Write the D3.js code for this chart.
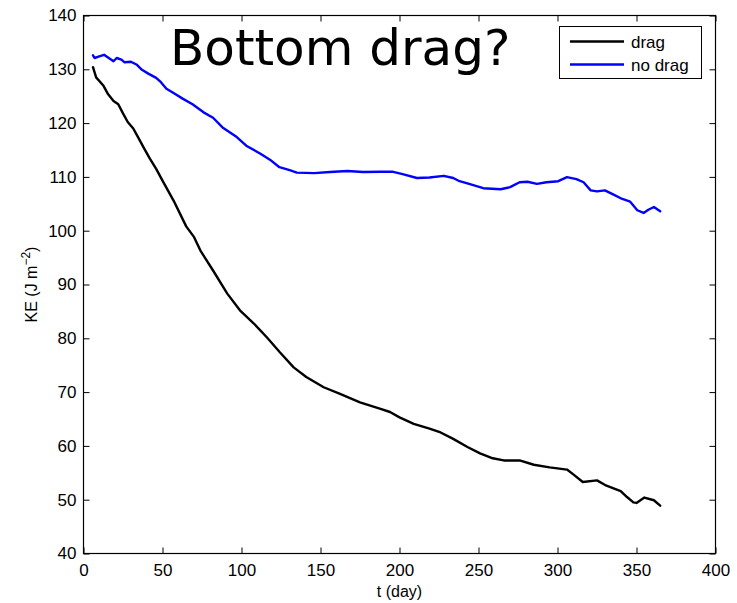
<!DOCTYPE html>
<html>
<head>
<meta charset="utf-8">
<script src="https://cdn.jsdelivr.net/npm/d3@7"></script>
<style>
  html, body { margin: 0; padding: 0; background: #fff; }
  svg { display: block; }
  text { fill: #000; }
</style>
</head>
<body>
<svg id="chart" width="737" height="603"></svg>
<script>
// Kinetic energy time series, with and without bottom drag
const dragDays = [6, 8, 12.5, 15.5, 19, 22, 25, 28, 31.5, 34.5, 38, 42, 46, 50, 57, 65, 70, 74, 82, 91, 99, 108, 116, 124, 133, 141, 152, 162, 175, 188, 194, 200, 209, 219, 226, 234, 243, 251, 259, 266, 276, 285, 295, 306, 310, 316, 325, 331, 340, 344, 348, 350, 355, 361, 365];
const dragKE = [130.4, 128.5, 127, 125.4, 124.1, 123.5, 121.8, 120.2, 119, 117.4, 115.5, 113.4, 111.5, 109.3, 105.6, 100.8, 98.8, 96.3, 92.6, 88.3, 85.2, 82.7, 80.2, 77.5, 74.6, 72.8, 70.9, 69.7, 68.1, 66.9, 66.3, 65.3, 64.1, 63.2, 62.5, 61.3, 59.8, 58.6, 57.7, 57.3, 57.3, 56.5, 56.0, 55.6, 54.7, 53.3, 53.6, 52.6, 51.6, 50.5, 49.5, 49.4, 50.4, 49.9, 48.9];

const noDragDays = [6, 7, 10, 13, 16, 19, 21, 24, 26, 30, 33.5, 37, 41, 46, 49, 52.5, 57, 63, 69, 76, 82, 88, 97, 103, 112, 118, 124, 131, 135, 146, 156, 167, 177, 188, 196, 202, 211, 219, 228, 234, 238, 243, 253, 264, 270, 276, 281, 287, 293, 300.5, 306, 312, 316.5, 321, 325, 330, 335.5, 341, 346, 348, 350.5, 354.5, 357.5, 361, 365];
const noDragKE = [132.6, 132.1, 132.4, 132.7, 132.1, 131.5, 132.1, 131.8, 131.3, 131.4, 130.9, 129.9, 129.2, 128.4, 127.6, 126.4, 125.6, 124.5, 123.5, 122.0, 121.0, 119.2, 117.4, 115.8, 114.3, 113.2, 111.8, 111.2, 110.8, 110.7, 110.9, 111.1, 110.9, 110.95, 110.95, 110.5, 109.8, 109.9, 110.2, 109.8, 109.2, 108.8, 107.9, 107.7, 108.1, 109.0, 109.1, 108.7, 109.0, 109.2, 109.95, 109.6, 109.0, 107.5, 107.3, 107.5, 106.7, 105.9, 105.4, 104.7, 103.8, 103.3, 103.9, 104.4, 103.6];

const xTicks = [0, 50, 100, 150, 200, 250, 300, 350, 400];
const yTicks = [40, 50, 60, 70, 80, 90, 100, 110, 120, 130, 140];

const seriesNames = ["drag", "no drag"];
const seriesColors = ["#000000", "#0000ff"];

(function () {
  const x0 = 83.5, x1 = 715.5;
  const y0 = 553.5, y1 = 15.5;
  const sans = "'Liberation Sans', Arial, sans-serif";

  const svg = d3.select("#chart");

  const x = d3.scaleLinear().domain([0, 400]).range([x0, x1]);
  const y = d3.scaleLinear().domain([40, 140]).range([y0, y1]);

  // Axes box with inward ticks on all four sides
  const tickLen = 6;

  const gBottom = svg.append("g").attr("transform", `translate(0,${y0})`)
    .call(d3.axisBottom(x).tickValues(xTicks).tickSizeInner(-tickLen).tickSizeOuter(0).tickPadding(10));
  const gTop = svg.append("g").attr("transform", `translate(0,${y1})`)
    .call(d3.axisTop(x).tickValues(xTicks).tickSizeInner(-tickLen).tickSizeOuter(0).tickFormat(""));
  const gLeft = svg.append("g").attr("transform", `translate(${x0},0)`)
    .call(d3.axisLeft(y).tickValues(yTicks).tickSizeInner(-tickLen).tickSizeOuter(0).tickPadding(7));
  const gRight = svg.append("g").attr("transform", `translate(${x1},0)`)
    .call(d3.axisRight(y).tickValues(yTicks).tickSizeInner(-tickLen).tickSizeOuter(0).tickFormat(""));

  [gBottom, gTop, gLeft, gRight].forEach(g => {
    g.select(".domain").remove();
    g.selectAll(".tick line").attr("stroke", "#000").attr("stroke-width", 1);
    g.selectAll(".tick text").attr("fill", "#000")
      .style("font-family", sans).style("font-size", "17px");
  });
  gBottom.selectAll(".tick text").attr("dy", "0.71em");

  svg.append("rect")
    .attr("x", x0).attr("y", y1)
    .attr("width", x1 - x0).attr("height", y0 - y1)
    .attr("fill", "none").attr("stroke", "#000").attr("stroke-width", 1.2);

  // Curves
  const line = d3.line().x(d => x(d[0])).y(d => y(d[1])).curve(d3.curveLinear);
  const series = [
    d3.zip(dragDays, dragKE),
    d3.zip(noDragDays, noDragKE)
  ];
  series.forEach((pts, i) => {
    svg.append("path")
      .datum(pts)
      .attr("d", line)
      .attr("fill", "none")
      .attr("stroke", seriesColors[i])
      .attr("stroke-width", 2.4)
      .attr("stroke-linejoin", "round")
      .attr("stroke-linecap", "round");
  });

  // Title inside the axes
  svg.append("text")
    .attr("x", 170).attr("y", 65)
    .style("font-family", "'DejaVu Sans', Verdana, sans-serif")
    .style("font-size", "50px")
    .text("Bottom drag?");

  // Axis labels
  svg.append("text")
    .attr("x", (x0 + x1) / 2).attr("y", 597)
    .attr("text-anchor", "middle")
    .style("font-family", sans).style("font-size", "16px")
    .text("t (day)");

  const yl = svg.append("text")
    .attr("transform", `translate(37,${(y0 + y1) / 2}) rotate(-90)`)
    .attr("text-anchor", "middle")
    .style("font-family", sans).style("font-size", "16px");
  yl.append("tspan").text("KE (J m");
  yl.append("tspan").attr("dy", "-7").style("font-size", "12px").text("\u22122");
  yl.append("tspan").attr("dy", "7").text(")");

  // Legend
  const lg = svg.append("g");
  lg.append("rect")
    .attr("x", 559.5).attr("y", 26.5).attr("width", 142).attr("height", 52)
    .attr("fill", "#fff").attr("stroke", "#000").attr("stroke-width", 1);
  seriesNames.forEach((name, i) => {
    const ly = 41.5 + i * 23;
    lg.append("line")
      .attr("x1", 570).attr("x2", 624).attr("y1", ly).attr("y2", ly)
      .attr("stroke", seriesColors[i]).attr("stroke-width", 2.4);
    lg.append("text")
      .attr("x", 631).attr("y", ly + 6)
      .style("font-family", sans).style("font-size", "17px")
      .text(name);
  });
})();
</script>
</body>
</html>
